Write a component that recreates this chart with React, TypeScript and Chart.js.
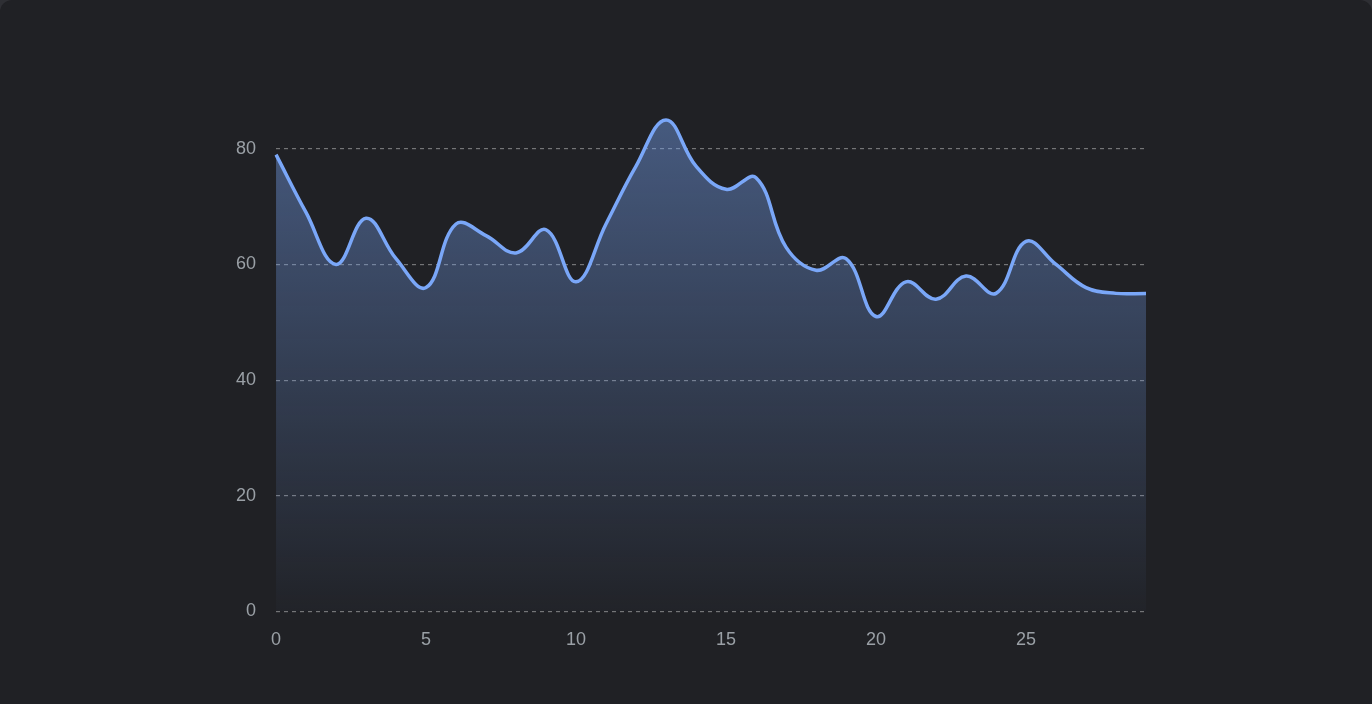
import React, { useEffect, useRef } from "react";
import { Chart, registerables } from "chart.js";

Chart.register(...registerables);

const categories: string[] = Array.from({ length: 30 }, (_, i) => String(i));
const seriesValues: number[] = [
  79, 69, 60, 68, 61, 56, 67, 65, 62, 66,
  57, 67, 77, 85, 77, 73, 75, 63, 59, 61,
  51, 57, 54, 58, 55, 64, 60, 56, 55, 55,
];
const yTickValues: number[] = [0, 20, 40, 60, 80];

const LINE = "#7aa7f8";
const TICK = "#9aa0a6";
const BG = "#202125";

export default function App() {
  const ref = useRef<HTMLCanvasElement | null>(null);

  useEffect(() => {
    document.body.style.margin = "0";
    document.body.style.background = "#2e2f34";
    const canvas = ref.current;
    if (!canvas) return;
    const chart = new Chart(canvas, {
      type: "line",
      data: {
        labels: categories,
        datasets: [
          {
            data: seriesValues,
            borderColor: LINE,
            borderWidth: 3.5,
            tension: 0.4,
            pointRadius: 0,
            pointHoverRadius: 0,
            fill: "origin",
            backgroundColor: (ctx: any) => {
              const { chart } = ctx;
              const area = chart.chartArea;
              if (!area) return "rgba(122,167,248,0.3)";
              const g = chart.ctx.createLinearGradient(0, area.top, 0, area.bottom);
              g.addColorStop(0, "rgba(122,167,248,0.45)");
              g.addColorStop(1, "rgba(122,167,248,0.02)");
              return g;
            },
          },
        ],
      },
      options: {
        animation: false,
        responsive: false,
        maintainAspectRatio: false,
        layout: { padding: { left: 216, right: 226, top: 91, bottom: 35 } },
        plugins: { legend: { display: false }, tooltip: { enabled: false } },
        scales: {
          x: {
            type: "category",
            offset: false,
            grid: { display: false, drawTicks: false },
            border: { display: false },
            ticks: {
              autoSkip: false,
              maxRotation: 0,
              color: TICK,
              padding: 18,
              font: { size: 18, family: "'Liberation Sans', Arial, sans-serif" },
              callback: (_v: any, i: number) => (i % 5 === 0 ? categories[i] : ""),
            },
          },
          y: {
            min: 0,
            max: 90,
            afterBuildTicks: (scale: any) => {
              scale.ticks = yTickValues.map((v) => ({ value: v }));
            },
            grid: {
              color: "rgba(255,255,255,0.38)",
              lineWidth: 1.2,
              drawTicks: false,
            },
            border: { display: false, dash: [4, 4] },
            ticks: {
              color: TICK,
              padding: 20,
              font: { size: 18, family: "'Liberation Sans', Arial, sans-serif" },
            },
          },
        },
      },
    } as any);
    return () => chart.destroy();
  }, []);

  return (
    <div
      style={{
        position: "absolute",
        left: 0,
        top: 0,
        width: 1372,
        height: 730,
        borderRadius: 12,
        background: BG,
        overflow: "hidden",
      }}
    >
      <canvas
        ref={ref}
        width={1372}
        height={704}
        style={{ position: "absolute", left: 0, top: 0, width: 1372, height: 704 }}
      />
    </div>
  );
}
